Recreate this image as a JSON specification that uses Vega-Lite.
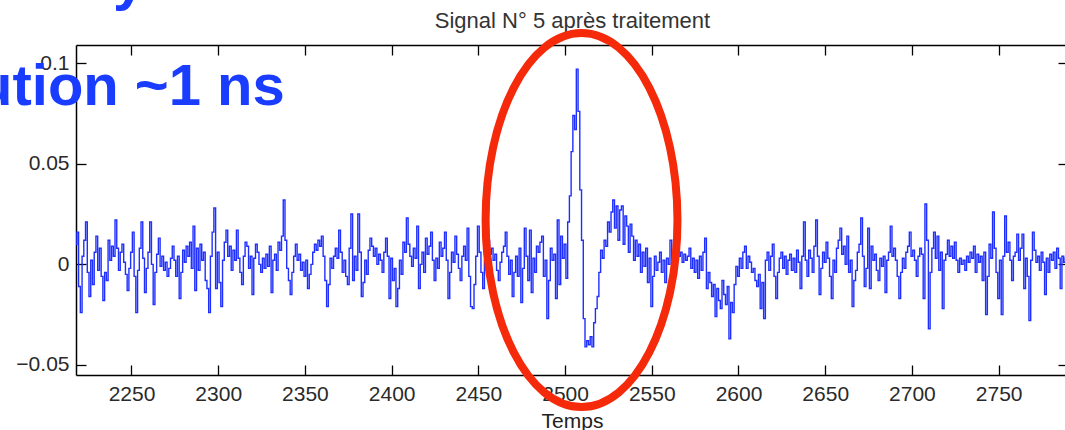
{
"$schema": "https://vega.github.io/schema/vega-lite/v6.json",
"width": 992,
"height": 330,
"autosize": {"type": "none"},
"padding": {"left": 76, "top": 45, "right": 0, "bottom": 55},
"background": "white",
"config": {
  "view": {"stroke": null},
  "font": "Liberation Sans",
  "axis": {"grid": false, "domainColor": "black", "domainWidth": 1.5, "tickColor": "black", "tickWidth": 1.3, "tickSize": -10, "labelFont": "Liberation Sans", "labelFontSize": 21, "labelColor": "#2a2a2a", "titleFont": "Liberation Sans", "titleFontSize": 21, "titleFontWeight": "normal", "titleColor": "#222"}
},
"layer": [
{
"data": {"values": [
{"t":2218,"v":0.010},{"t":2219,"v":0.016},{"t":2220,"v":-0.011},{"t":2221,"v":-0.024},{"t":2222,"v":0.004},{"t":2223,"v":0.012},{"t":2224,"v":0.021},{"t":2225,"v":-0.004},{"t":2226,"v":-0.016},{"t":2227,"v":0.002},
{"t":2228,"v":-0.010},{"t":2229,"v":0.006},{"t":2230,"v":0.014},{"t":2231,"v":-0.003},{"t":2232,"v":0.008},{"t":2233,"v":-0.006},{"t":2234,"v":-0.018},{"t":2235,"v":-0.004},{"t":2236,"v":-0.008},{"t":2237,"v":0.012},
{"t":2238,"v":0.002},{"t":2239,"v":0.009},{"t":2240,"v":0.004},{"t":2241,"v":0.022},{"t":2242,"v":0.008},{"t":2243,"v":-0.003},{"t":2244,"v":0.006},{"t":2245,"v":0.010},{"t":2246,"v":0.001},{"t":2247,"v":-0.005},
{"t":2248,"v":-0.013},{"t":2249,"v":-0.002},{"t":2250,"v":0.006},{"t":2251,"v":0.016},{"t":2252,"v":-0.006},{"t":2253,"v":-0.024},{"t":2254,"v":-0.003},{"t":2255,"v":0.008},{"t":2256,"v":0.021},{"t":2257,"v":0.003},
{"t":2258,"v":-0.014},{"t":2259,"v":-0.002},{"t":2260,"v":0.006},{"t":2261,"v":0.021},{"t":2262,"v":0.000},{"t":2263,"v":-0.020},{"t":2264,"v":-0.004},{"t":2265,"v":0.005},{"t":2266,"v":0.013},{"t":2267,"v":-0.001},
{"t":2268,"v":0.004},{"t":2269,"v":-0.003},{"t":2270,"v":0.001},{"t":2271,"v":-0.006},{"t":2272,"v":-0.002},{"t":2273,"v":0.003},{"t":2274,"v":0.009},{"t":2275,"v":0.002},{"t":2276,"v":-0.006},{"t":2277,"v":0.004},
{"t":2278,"v":-0.017},{"t":2279,"v":-0.004},{"t":2280,"v":0.007},{"t":2281,"v":0.001},{"t":2282,"v":0.009},{"t":2283,"v":0.004},{"t":2284,"v":0.011},{"t":2285,"v":-0.002},{"t":2286,"v":0.019},{"t":2287,"v":-0.013},
{"t":2288,"v":0.008},{"t":2289,"v":-0.003},{"t":2290,"v":0.010},{"t":2291,"v":0.002},{"t":2292,"v":0.006},{"t":2293,"v":-0.008},{"t":2294,"v":-0.012},{"t":2295,"v":-0.024},{"t":2296,"v":0.004},{"t":2297,"v":0.016},
{"t":2298,"v":0.028},{"t":2299,"v":-0.012},{"t":2300,"v":0.006},{"t":2301,"v":-0.009},{"t":2302,"v":-0.021},{"t":2303,"v":0.002},{"t":2304,"v":0.011},{"t":2305,"v":0.017},{"t":2306,"v":0.004},{"t":2307,"v":0.009},
{"t":2308,"v":-0.003},{"t":2309,"v":0.007},{"t":2310,"v":0.002},{"t":2311,"v":0.017},{"t":2312,"v":0.003},{"t":2313,"v":-0.004},{"t":2314,"v":-0.010},{"t":2315,"v":0.004},{"t":2316,"v":0.011},{"t":2317,"v":0.009},
{"t":2318,"v":-0.002},{"t":2319,"v":0.004},{"t":2320,"v":-0.015},{"t":2321,"v":0.003},{"t":2322,"v":0.010},{"t":2323,"v":0.006},{"t":2324,"v":0.000},{"t":2325,"v":-0.004},{"t":2326,"v":0.003},{"t":2327,"v":-0.002},
{"t":2328,"v":0.005},{"t":2329,"v":-0.001},{"t":2330,"v":0.009},{"t":2331,"v":-0.014},{"t":2332,"v":0.002},{"t":2333,"v":0.005},{"t":2334,"v":-0.003},{"t":2335,"v":0.011},{"t":2336,"v":0.007},{"t":2337,"v":0.014},
{"t":2338,"v":0.032},{"t":2339,"v":0.012},{"t":2340,"v":-0.002},{"t":2341,"v":-0.008},{"t":2342,"v":-0.015},{"t":2343,"v":-0.004},{"t":2344,"v":0.004},{"t":2345,"v":0.010},{"t":2346,"v":0.002},{"t":2347,"v":0.005},
{"t":2348,"v":-0.003},{"t":2349,"v":0.001},{"t":2350,"v":-0.006},{"t":2351,"v":0.002},{"t":2352,"v":-0.012},{"t":2353,"v":-0.005},{"t":2354,"v":0.000},{"t":2355,"v":0.006},{"t":2356,"v":0.010},{"t":2357,"v":0.007},
{"t":2358,"v":0.012},{"t":2359,"v":0.009},{"t":2360,"v":0.014},{"t":2361,"v":0.004},{"t":2362,"v":-0.008},{"t":2363,"v":-0.021},{"t":2364,"v":-0.010},{"t":2365,"v":0.003},{"t":2366,"v":-0.002},{"t":2367,"v":0.004},
{"t":2368,"v":0.008},{"t":2369,"v":0.003},{"t":2370,"v":0.017},{"t":2371,"v":0.006},{"t":2372,"v":-0.004},{"t":2373,"v":0.002},{"t":2374,"v":-0.006},{"t":2375,"v":-0.010},{"t":2376,"v":0.008},{"t":2377,"v":0.025},
{"t":2378,"v":-0.008},{"t":2379,"v":0.004},{"t":2380,"v":-0.003},{"t":2381,"v":0.025},{"t":2382,"v":0.006},{"t":2383,"v":-0.016},{"t":2384,"v":-0.009},{"t":2385,"v":0.002},{"t":2386,"v":-0.005},{"t":2387,"v":0.007},
{"t":2388,"v":0.013},{"t":2389,"v":0.009},{"t":2390,"v":0.004},{"t":2391,"v":0.008},{"t":2392,"v":0.000},{"t":2393,"v":0.005},{"t":2394,"v":0.002},{"t":2395,"v":-0.004},{"t":2396,"v":0.006},{"t":2397,"v":0.013},
{"t":2398,"v":0.004},{"t":2399,"v":-0.017},{"t":2400,"v":0.003},{"t":2401,"v":-0.008},{"t":2402,"v":-0.002},{"t":2403,"v":-0.021},{"t":2404,"v":-0.012},{"t":2405,"v":0.002},{"t":2406,"v":-0.005},{"t":2407,"v":0.011},
{"t":2408,"v":0.006},{"t":2409,"v":0.023},{"t":2410,"v":0.010},{"t":2411,"v":0.004},{"t":2412,"v":-0.001},{"t":2413,"v":0.008},{"t":2414,"v":0.003},{"t":2415,"v":0.019},{"t":2416,"v":-0.012},{"t":2417,"v":0.000},
{"t":2418,"v":0.006},{"t":2419,"v":-0.004},{"t":2420,"v":0.013},{"t":2421,"v":0.005},{"t":2422,"v":0.009},{"t":2423,"v":0.016},{"t":2424,"v":0.002},{"t":2425,"v":-0.008},{"t":2426,"v":0.003},{"t":2427,"v":-0.002},
{"t":2428,"v":0.011},{"t":2429,"v":0.004},{"t":2430,"v":0.008},{"t":2431,"v":0.016},{"t":2432,"v":0.002},{"t":2433,"v":-0.017},{"t":2434,"v":-0.004},{"t":2435,"v":0.006},{"t":2436,"v":0.001},{"t":2437,"v":0.014},
{"t":2438,"v":0.005},{"t":2439,"v":-0.002},{"t":2440,"v":-0.008},{"t":2441,"v":0.004},{"t":2442,"v":0.009},{"t":2443,"v":0.002},{"t":2444,"v":0.018},{"t":2445,"v":-0.006},{"t":2446,"v":-0.021},{"t":2447,"v":-0.022},
{"t":2448,"v":-0.010},{"t":2449,"v":0.004},{"t":2450,"v":0.019},{"t":2451,"v":0.006},{"t":2452,"v":-0.004},{"t":2453,"v":-0.012},{"t":2454,"v":0.002},{"t":2455,"v":-0.003},{"t":2456,"v":0.012},{"t":2457,"v":0.005},
{"t":2458,"v":0.008},{"t":2459,"v":0.002},{"t":2460,"v":0.005},{"t":2461,"v":-0.003},{"t":2462,"v":-0.008},{"t":2463,"v":0.001},{"t":2464,"v":0.006},{"t":2465,"v":0.009},{"t":2466,"v":0.016},{"t":2467,"v":0.004},
{"t":2468,"v":-0.005},{"t":2469,"v":0.002},{"t":2470,"v":-0.016},{"t":2471,"v":-0.004},{"t":2472,"v":0.004},{"t":2473,"v":-0.006},{"t":2474,"v":0.008},{"t":2475,"v":-0.019},{"t":2476,"v":-0.002},{"t":2477,"v":0.018},
{"t":2478,"v":0.004},{"t":2479,"v":-0.008},{"t":2480,"v":0.017},{"t":2481,"v":-0.014},{"t":2482,"v":0.003},{"t":2483,"v":-0.004},{"t":2484,"v":0.009},{"t":2485,"v":0.006},{"t":2486,"v":0.011},{"t":2487,"v":0.014},
{"t":2488,"v":-0.006},{"t":2489,"v":0.002},{"t":2490,"v":-0.027},{"t":2491,"v":-0.008},{"t":2492,"v":0.008},{"t":2493,"v":0.002},{"t":2494,"v":0.005},{"t":2495,"v":-0.017},{"t":2496,"v":0.022},{"t":2497,"v":-0.010},
{"t":2498,"v":0.014},{"t":2499,"v":0.003},{"t":2500,"v":0.010},{"t":2501,"v":-0.007},{"t":2502,"v":0.021},{"t":2503,"v":0.034},{"t":2504,"v":0.056},{"t":2505,"v":0.074},{"t":2506,"v":0.067},{"t":2507,"v":0.097},
{"t":2508,"v":0.076},{"t":2509,"v":0.037},{"t":2510,"v":0.012},{"t":2511,"v":-0.027},{"t":2512,"v":-0.041},{"t":2513,"v":-0.038},{"t":2514,"v":-0.040},{"t":2515,"v":-0.036},{"t":2516,"v":-0.041},{"t":2517,"v":-0.029},
{"t":2518,"v":-0.022},{"t":2519,"v":-0.016},{"t":2520,"v":-0.004},{"t":2521,"v":0.007},{"t":2522,"v":0.003},{"t":2523,"v":0.012},{"t":2524,"v":0.009},{"t":2525,"v":0.021},{"t":2526,"v":0.016},{"t":2527,"v":0.026},
{"t":2528,"v":0.032},{"t":2529,"v":0.018},{"t":2530,"v":0.029},{"t":2531,"v":0.012},{"t":2532,"v":0.027},{"t":2533,"v":0.029},{"t":2534,"v":0.010},{"t":2535,"v":0.024},{"t":2536,"v":0.019},{"t":2537,"v":0.006},
{"t":2538,"v":0.020},{"t":2539,"v":0.014},{"t":2540,"v":0.002},{"t":2541,"v":0.012},{"t":2542,"v":0.004},{"t":2543,"v":0.010},{"t":2544,"v":-0.004},{"t":2545,"v":0.006},{"t":2546,"v":-0.001},{"t":2547,"v":0.008},
{"t":2548,"v":-0.009},{"t":2549,"v":0.003},{"t":2550,"v":-0.021},{"t":2551,"v":-0.006},{"t":2552,"v":0.004},{"t":2553,"v":-0.003},{"t":2554,"v":0.001},{"t":2555,"v":0.006},{"t":2556,"v":-0.004},{"t":2557,"v":0.002},
{"t":2558,"v":-0.009},{"t":2559,"v":0.003},{"t":2560,"v":0.000},{"t":2561,"v":0.012},{"t":2562,"v":-0.007},{"t":2563,"v":0.005},{"t":2564,"v":0.002},{"t":2565,"v":0.008},{"t":2566,"v":0.004},{"t":2567,"v":0.006},
{"t":2568,"v":0.001},{"t":2569,"v":0.005},{"t":2570,"v":0.002},{"t":2571,"v":0.004},{"t":2572,"v":0.008},{"t":2573,"v":-0.002},{"t":2574,"v":0.003},{"t":2575,"v":-0.004},{"t":2576,"v":0.002},{"t":2577,"v":-0.007},
{"t":2578,"v":0.004},{"t":2579,"v":-0.003},{"t":2580,"v":0.006},{"t":2581,"v":0.013},{"t":2582,"v":-0.012},{"t":2583,"v":-0.004},{"t":2584,"v":-0.009},{"t":2585,"v":-0.016},{"t":2586,"v":-0.010},{"t":2587,"v":-0.026},
{"t":2588,"v":-0.012},{"t":2589,"v":-0.018},{"t":2590,"v":-0.022},{"t":2591,"v":-0.008},{"t":2592,"v":-0.015},{"t":2593,"v":-0.020},{"t":2594,"v":-0.011},{"t":2595,"v":-0.037},{"t":2596,"v":-0.019},{"t":2597,"v":-0.024},
{"t":2598,"v":-0.010},{"t":2599,"v":-0.001},{"t":2600,"v":-0.006},{"t":2601,"v":0.003},{"t":2602,"v":-0.002},{"t":2603,"v":0.006},{"t":2604,"v":0.009},{"t":2605,"v":-0.002},{"t":2606,"v":0.004},{"t":2607,"v":0.001},
{"t":2608,"v":-0.004},{"t":2609,"v":-0.002},{"t":2610,"v":-0.008},{"t":2611,"v":-0.011},{"t":2612,"v":-0.005},{"t":2613,"v":-0.022},{"t":2614,"v":-0.009},{"t":2615,"v":-0.027},{"t":2616,"v":0.002},{"t":2617,"v":0.006},
{"t":2618,"v":-0.003},{"t":2619,"v":0.004},{"t":2620,"v":0.010},{"t":2621,"v":-0.006},{"t":2622,"v":-0.017},{"t":2623,"v":-0.004},{"t":2624,"v":0.003},{"t":2625,"v":0.006},{"t":2626,"v":-0.002},{"t":2627,"v":0.004},
{"t":2628,"v":-0.005},{"t":2629,"v":0.002},{"t":2630,"v":0.005},{"t":2631,"v":-0.003},{"t":2632,"v":0.003},{"t":2633,"v":-0.004},{"t":2634,"v":0.007},{"t":2635,"v":0.001},{"t":2636,"v":-0.012},{"t":2637,"v":0.004},
{"t":2638,"v":0.021},{"t":2639,"v":0.002},{"t":2640,"v":-0.006},{"t":2641,"v":0.007},{"t":2642,"v":0.003},{"t":2643,"v":-0.004},{"t":2644,"v":0.009},{"t":2645,"v":0.022},{"t":2646,"v":0.004},{"t":2647,"v":-0.015},
{"t":2648,"v":-0.002},{"t":2649,"v":0.006},{"t":2650,"v":0.001},{"t":2651,"v":0.011},{"t":2652,"v":0.003},{"t":2653,"v":-0.006},{"t":2654,"v":-0.017},{"t":2655,"v":0.002},{"t":2656,"v":-0.004},{"t":2657,"v":0.008},
{"t":2658,"v":0.012},{"t":2659,"v":0.018},{"t":2660,"v":0.005},{"t":2661,"v":0.009},{"t":2662,"v":0.000},{"t":2663,"v":0.014},{"t":2664,"v":-0.004},{"t":2665,"v":0.002},{"t":2666,"v":-0.021},{"t":2667,"v":-0.008},
{"t":2668,"v":-0.003},{"t":2669,"v":0.006},{"t":2670,"v":0.010},{"t":2671,"v":0.023},{"t":2672,"v":0.004},{"t":2673,"v":-0.011},{"t":2674,"v":-0.002},{"t":2675,"v":0.018},{"t":2676,"v":-0.012},{"t":2677,"v":0.009},
{"t":2678,"v":0.002},{"t":2679,"v":0.005},{"t":2680,"v":-0.003},{"t":2681,"v":-0.008},{"t":2682,"v":0.003},{"t":2683,"v":-0.001},{"t":2684,"v":0.004},{"t":2685,"v":-0.014},{"t":2686,"v":0.002},{"t":2687,"v":0.006},
{"t":2688,"v":0.019},{"t":2689,"v":0.004},{"t":2690,"v":0.008},{"t":2691,"v":0.002},{"t":2692,"v":-0.006},{"t":2693,"v":-0.017},{"t":2694,"v":-0.004},{"t":2695,"v":0.003},{"t":2696,"v":-0.002},{"t":2697,"v":0.006},
{"t":2698,"v":0.009},{"t":2699,"v":0.016},{"t":2700,"v":0.004},{"t":2701,"v":0.007},{"t":2702,"v":0.002},{"t":2703,"v":-0.006},{"t":2704,"v":0.004},{"t":2705,"v":0.008},{"t":2706,"v":0.005},{"t":2707,"v":-0.017},
{"t":2708,"v":0.030},{"t":2709,"v":0.012},{"t":2710,"v":-0.032},{"t":2711,"v":-0.004},{"t":2712,"v":0.008},{"t":2713,"v":0.016},{"t":2714,"v":0.003},{"t":2715,"v":0.014},{"t":2716,"v":-0.003},{"t":2717,"v":0.006},
{"t":2718,"v":-0.022},{"t":2719,"v":0.002},{"t":2720,"v":0.005},{"t":2721,"v":0.012},{"t":2722,"v":0.004},{"t":2723,"v":0.009},{"t":2724,"v":0.003},{"t":2725,"v":0.011},{"t":2726,"v":0.002},{"t":2727,"v":-0.004},
{"t":2728,"v":0.003},{"t":2729,"v":0.000},{"t":2730,"v":0.002},{"t":2731,"v":-0.003},{"t":2732,"v":0.004},{"t":2733,"v":0.001},{"t":2734,"v":0.006},{"t":2735,"v":0.003},{"t":2736,"v":0.009},{"t":2737,"v":-0.004},
{"t":2738,"v":0.005},{"t":2739,"v":0.001},{"t":2740,"v":0.004},{"t":2741,"v":-0.008},{"t":2742,"v":0.006},{"t":2743,"v":-0.025},{"t":2744,"v":-0.006},{"t":2745,"v":0.010},{"t":2746,"v":0.003},{"t":2747,"v":0.026},
{"t":2748,"v":0.008},{"t":2749,"v":-0.004},{"t":2750,"v":-0.017},{"t":2751,"v":0.002},{"t":2752,"v":-0.025},{"t":2753,"v":0.004},{"t":2754,"v":0.024},{"t":2755,"v":0.006},{"t":2756,"v":0.011},{"t":2757,"v":0.002},
{"t":2758,"v":-0.008},{"t":2759,"v":0.004},{"t":2760,"v":0.006},{"t":2761,"v":0.015},{"t":2762,"v":0.002},{"t":2763,"v":0.008},{"t":2764,"v":0.015},{"t":2765,"v":-0.012},{"t":2766,"v":0.003},{"t":2767,"v":-0.006},
{"t":2768,"v":-0.028},{"t":2769,"v":0.002},{"t":2770,"v":0.016},{"t":2771,"v":0.007},{"t":2772,"v":0.001},{"t":2773,"v":0.004},{"t":2774,"v":-0.003},{"t":2775,"v":0.006},{"t":2776,"v":0.001},{"t":2777,"v":-0.015},
{"t":2778,"v":0.003},{"t":2779,"v":-0.004},{"t":2780,"v":0.005},{"t":2781,"v":0.002},{"t":2782,"v":0.006},{"t":2783,"v":-0.002},{"t":2784,"v":0.008},{"t":2785,"v":0.003},{"t":2786,"v":-0.012},{"t":2787,"v":0.004},
{"t":2788,"v":0.001},{"t":2789,"v":0.003},{"t":2790,"v":-0.002}
]},
"mark": {"type": "line", "interpolate": "step", "color": "#1f2fff", "strokeWidth": 1.4},
"encoding": {
  "x": {"field": "t", "type": "quantitative", "scale": {"domain": [2218, 2790], "nice": false, "zero": false},
        "axis": {"orient": "bottom", "values": [2250, 2300, 2350, 2400, 2450, 2500, 2550, 2600, 2650, 2700, 2750], "format": "d", "title": "Temps", "labelPadding": 18, "titlePadding": 6}},
  "y": {"field": "v", "type": "quantitative", "scale": {"domain": [-0.055, 0.109], "nice": false, "zero": false},
        "axis": {"orient": "left", "values": [-0.05, 0, 0.05, 0.1], "format": "~g", "title": null, "labelPadding": 17}}
}
},
{
"data": {"values": [{"t": 2509.5, "v": 0.022}]},
"mark": {"type": "point", "shape": "M 0 -1 A 0.513 1 0 1 1 0 1 A 0.513 1 0 1 1 0 -1 Z", "size": 139876, "filled": false, "stroke": "#f52a0a", "strokeWidth": 8, "opacity": 1},
"encoding": {
  "x": {"field": "t", "type": "quantitative", "axis": {"orient": "top", "values": [2250, 2300, 2350, 2400, 2450, 2500, 2550, 2600, 2650, 2700, 2750], "labels": false, "title": "Signal  N° 5 après traitement", "titleColor": "#333", "titleFontSize": 22, "titleBaseline": "alphabetic", "titlePadding": 17}},
  "y": {"field": "v", "type": "quantitative", "axis": {"orient": "right", "values": [-0.05, 0, 0.05, 0.1], "labels": false, "title": null}}
}
},
{
"data": {"values": [{"t": 2338.4, "v": 0.079, "s": "Résolution ~1 ns"}, {"t": 2295.2, "v": 0.1318, "s": "Analyse"}]},
"mark": {"type": "text", "align": "right", "baseline": "alphabetic", "fontSize": 58, "fontWeight": "bold", "font": "Liberation Sans", "color": "#1a3cff"},
"encoding": {
  "x": {"field": "t", "type": "quantitative", "axis": null},
  "y": {"field": "v", "type": "quantitative", "axis": null},
  "text": {"field": "s"}
}
}
],
"resolve": {"axis": {"x": "independent", "y": "independent"}}
}
